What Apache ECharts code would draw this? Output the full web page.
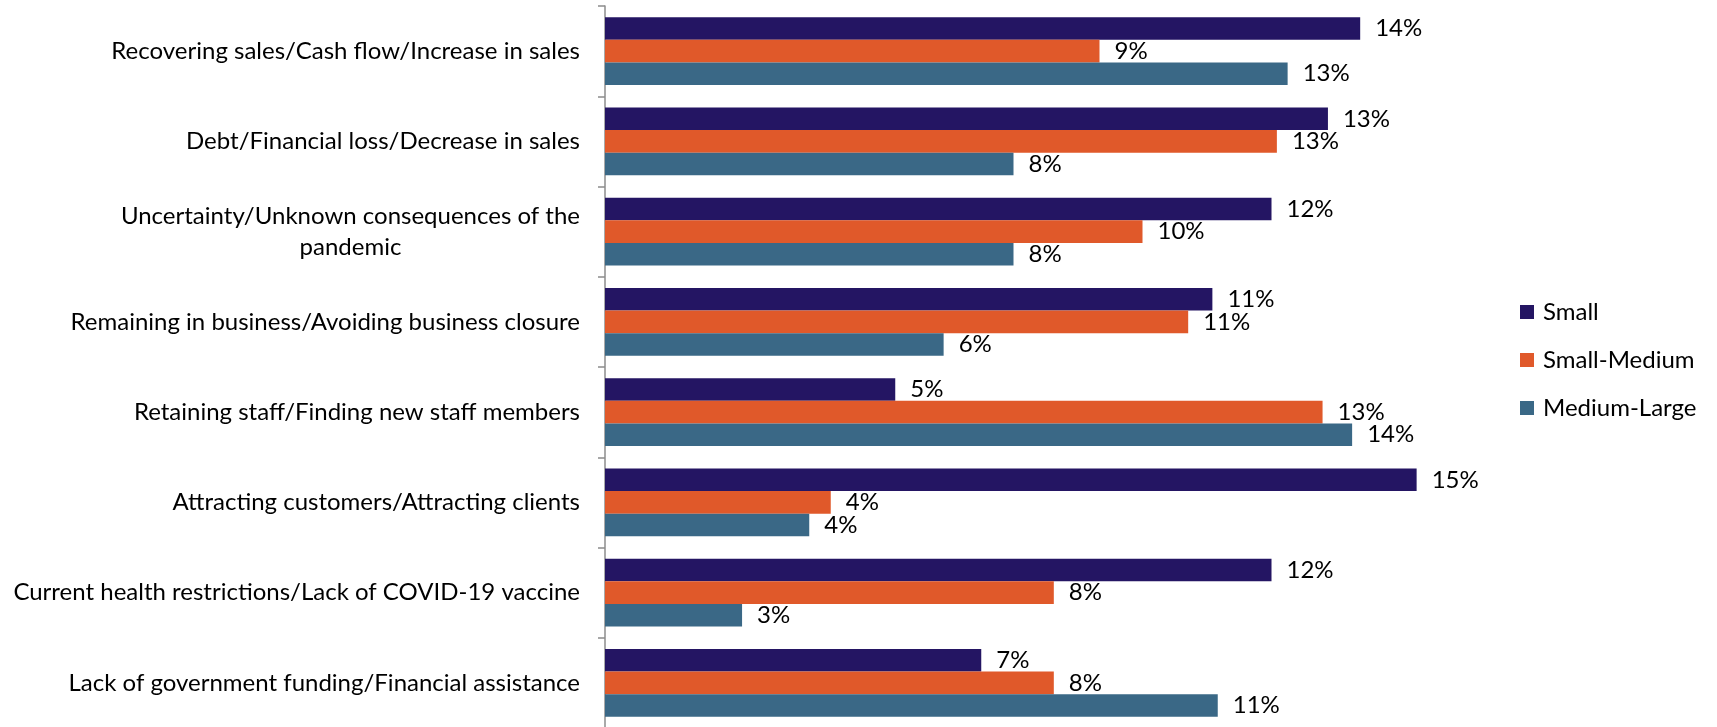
<!DOCTYPE html>
<html>
<head>
<meta charset="utf-8">
<style>
  html, body { margin: 0; padding: 0; background: #ffffff; }
  #chart { width: 1717px; height: 727px; }
</style>
<script src="https://cdn.jsdelivr.net/npm/echarts@6/dist/echarts.min.js"></script>
</head>
<body>
<div id="chart"></div>
<script>
// Biggest business challenges by business size (% of respondents)
const categories = [
  'Recovering sales/Cash flow/Increase in sales',
  'Debt/Financial loss/Decrease in sales',
  'Uncertainty/Unknown consequences of the\npandemic',
  'Remaining in business/Avoiding business closure',
  'Retaining staff/Finding new staff members',
  'Attracting customers/Attracting clients',
  'Current health restrictions/Lack of COVID-19 vaccine',
  'Lack of government funding/Financial assistance'
];
const seriesNames = ['Small', 'Small-Medium', 'Medium-Large'];
const small       = [14.05, 13.45, 12.4, 11.3, 5.4, 15.1, 12.4, 7.0];
const smallMedium = [9.2, 12.5, 10.0, 10.85, 13.35, 4.2, 8.35, 8.35];
const mediumLarge = [12.7, 7.6, 7.6, 6.3, 13.9, 3.8, 2.55, 11.4];

const colors = ['#241563', '#E0592A', '#3A6886'];
const FONT = 'Lato';
const FS = 24;

const chart = echarts.init(document.getElementById('chart'), null, { renderer: 'canvas' });

function barSeries(name, data, color) {
  return {
    name: name,
    type: 'bar',
    data: data,
    barGap: '0%',
    barCategoryGap: '25%',
    itemStyle: { color: color },
    label: {
      show: true,
      position: 'right',
      distance: 15,
      color: '#000',
      fontFamily: FONT,
      fontSize: FS,
      formatter: p => Math.round(p.value) + '%'
    }
  };
}

chart.setOption({
  animation: false,
  color: colors,
  grid: { left: 605, top: 6, right: 252, bottom: -1, containLabel: false, outerBoundsMode: 'none' },
  legend: {
    orient: 'vertical',
    left: 1520,
    top: 300,
    padding: 0,
    itemWidth: 14,
    itemHeight: 14,
    itemGap: 24,
    icon: 'rect',
    textStyle: { fontFamily: FONT, fontSize: FS, color: '#000', lineHeight: 24, padding: [0, 0, 0, 4] },
    data: seriesNames
  },
  xAxis: {
    type: 'value',
    min: 0,
    max: 16,
    show: false,
    splitLine: { show: false }
  },
  yAxis: {
    type: 'category',
    inverse: true,
    data: categories,
    axisLine: { show: true, lineStyle: { color: '#8c8c8c', width: 1.5 } },
    axisTick: { show: true, length: 7, lineStyle: { color: '#8c8c8c', width: 1.5 } },
    axisLabel: {
      margin: 25,
      color: '#000',
      fontFamily: FONT,
      fontSize: FS,
      lineHeight: 31,
      formatter: v => v.split('\n').map(s => '{c|' + s + '}').join('\n'),
      rich: { c: { align: 'center', fontFamily: FONT, fontSize: FS, color: '#000', lineHeight: 31 } }
    },
    splitLine: { show: false }
  },
  series: [
    barSeries(seriesNames[0], small, colors[0]),
    barSeries(seriesNames[1], smallMedium, colors[1]),
    barSeries(seriesNames[2], mediumLarge, colors[2])
  ]
});
</script>
</body>
</html>
